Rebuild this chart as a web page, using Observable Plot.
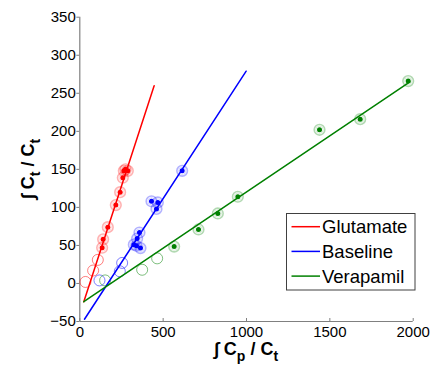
<!DOCTYPE html>
<html><head><meta charset="utf-8">
<script src="https://cdn.jsdelivr.net/npm/d3@7"></script>
<script src="https://cdn.jsdelivr.net/npm/@observablehq/plot@0.6"></script>
<style>
body{margin:0;background:#fff}
#chart{position:relative;width:438px;height:366px}
</style>
</head><body><div id="chart"></div>
<script>
// ---- data ----
const seriesNames = ["Glutamate", "Baseline", "Verapamil"];
const seriesColors = ["#ff0000", "#0000ff", "#008000"];

// Glutamate
const glutOpenX = [34, 80, 108];
const glutOpenY = [2, 17, 31];
const glutX = [134, 140, 168, 216, 242, 258, 264, 274, 288];
const glutY = [47, 58, 74, 103, 120, 139, 148, 150, 148];
const glutFitX = [24, 446];
const glutFitY = [-24, 260];

// Baseline
const baseOpenX = [118, 240, 254];
const baseOpenY = [4, 16, 27];
const baseX = [324, 340, 344, 358, 364, 430, 460, 468, 614];
const baseY = [51, 49.5, 59, 67, 46.5, 108, 98, 106.5, 148];
const baseFitX = [28, 998];
const baseFitY = [-47, 279];

// Verapamil
const veraOpenX = [152, 374, 464];
const veraOpenY = [4, 18, 33];
const veraX = [566, 712, 828, 948, 1438, 1682, 1970];
const veraY = [48.5, 71, 92, 114, 202, 216, 266];
const veraFitX = [24, 1980];
const veraFitY = [-24, 265];

const xTicks = [0, 500, 1000, 1500, 2000];
const yTicks = [-50, 0, 50, 100, 150, 200, 250, 300, 350];

// ---- build tables ----
const zip = (xs, ys) => xs.map((x, i) => ({x, y: ys[i]}));
const groups = [
  {open: zip(glutOpenX, glutOpenY), pts: zip(glutX, glutY), fit: zip(glutFitX, glutFitY)},
  {open: zip(baseOpenX, baseOpenY), pts: zip(baseX, baseY), fit: zip(baseFitX, baseFitY)},
  {open: zip(veraOpenX, veraOpenY), pts: zip(veraX, veraY), fit: zip(veraFitX, veraFitY)}
];

const marks = [];
groups.forEach((g, i) => {
  const c = seriesColors[i];
  marks.push(Plot.dot(g.open, {x: "x", y: "y", r: 5.5, stroke: c, strokeOpacity: 0.5, strokeWidth: 1, fill: "none"}));
});
groups.forEach((g, i) => {
  const c = seriesColors[i];
  marks.push(Plot.dot(g.pts, {x: "x", y: "y", r: 5.3, stroke: c, strokeOpacity: 0.3, strokeWidth: 1.6, fill: "none"}));
  marks.push(Plot.dot(g.pts, {x: "x", y: "y", r: 3.6, stroke: c, strokeOpacity: 0.15, strokeWidth: 1, fill: "none"}));
  marks.push(Plot.dot(g.pts, {x: "x", y: "y", r: 2.5, fill: c, stroke: "none"}));
});
groups.forEach((g, i) => {
  marks.push(Plot.line(g.fit, {x: "x", y: "y", stroke: seriesColors[i], strokeWidth: 1.5}));
});

const chart = Plot.plot({
  width: 438, height: 366,
  marginLeft: 79.3, marginRight: 25.3, marginTop: 16.7, marginBottom: 45,
  style: {fontFamily: "'Liberation Sans', Arial, sans-serif", fontSize: "15px", background: "white", color: "black"},
  x: {domain: [0, 2000]},
  y: {domain: [-50, 350]},
  marks: [
    Plot.axisX({ticks: xTicks, tickFormat: d3.format("d"), tickSize: -3, tickPadding: 8, stroke: "#808080", fill: "black", label: null, fontSize: 15}),
    Plot.axisY({ticks: yTicks, tickFormat: d3.format("d"), tickSize: 3, tickPadding: 1, stroke: "#808080", fill: "black", label: null, fontSize: 15}),
    Plot.ruleX([0], {stroke: "#808080", strokeWidth: 1.2}),
    Plot.ruleY([-50], {stroke: "#808080", strokeWidth: 1.2}),
    ...marks
  ]
});
document.getElementById("chart").appendChild(chart);

// ---- axis labels & legend ----
const svg = d3.select(chart);
const lab = "'Liberation Sans', Arial, sans-serif";

const xl = svg.append("text")
  .attr("x", 246).attr("y", 355)
  .attr("text-anchor", "middle")
  .style("font-family", lab).style("font-size", "18px").style("font-weight", "bold").attr("fill", "black");
xl.append("tspan").text("\u222B C");
xl.append("tspan").attr("dy", 6).style("font-size", "14px").text("p");
xl.append("tspan").attr("dy", -6).text(" / C");
xl.append("tspan").attr("dy", 6).style("font-size", "14px").text("t");

const yl = svg.append("text")
  .attr("transform", "translate(34,169) rotate(-90)")
  .attr("text-anchor", "middle")
  .style("font-family", lab).style("font-size", "18px").style("font-weight", "bold").attr("fill", "black");
yl.append("tspan").text("\u222B C");
yl.append("tspan").attr("dy", 6).style("font-size", "14px").text("t");
yl.append("tspan").attr("dy", -6).text(" / C");
yl.append("tspan").attr("dy", 6).style("font-size", "14px").text("t");

const lg = svg.append("g").attr("text-anchor", "start");
lg.append("rect").attr("x", 286.5).attr("y", 213.5).attr("width", 128.5).attr("height", 76.5)
  .attr("fill", "white").attr("stroke", "#404040").attr("stroke-width", 1);
seriesNames.forEach((name, i) => {
  const yy = 226.7 + i * 24.7;
  lg.append("line").attr("x1", 291.5).attr("x2", 320).attr("y1", yy).attr("y2", yy)
    .attr("stroke", seriesColors[i]).attr("stroke-width", 1.5);
  lg.append("text").attr("x", 322).attr("y", yy + 6.5).attr("text-anchor", "start")
    .style("font-family", lab).style("font-size", "18.5px").attr("fill", "black").text(name);
});
</script>
</body></html>
